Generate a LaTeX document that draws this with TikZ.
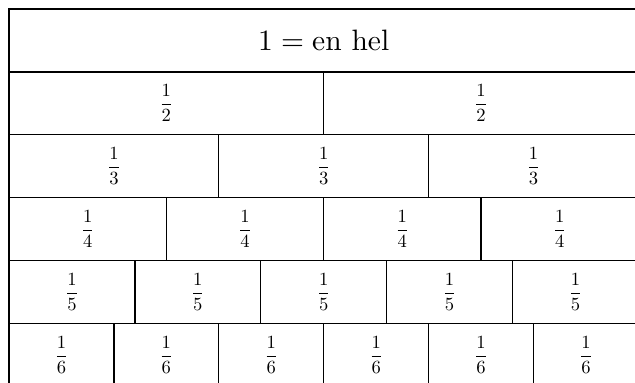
\documentclass[tikz,border=0pt]{standalone}
\usepackage{amsmath}
\usepackage{graphicx}
\newcommand{\fracbig}[1]{\scalebox{1.86}{$\dfrac{1}{#1}$}}
\begin{document}
\begin{tikzpicture}[x=1pt,y=1pt,
  cell/.style={draw=black, line width=1.3pt, inner sep=0pt, outer sep=0pt,
    minimum height=62.85pt}]
\useasboundingbox (0,0) rectangle (635,-383);
\clip (0,0) rectangle (635,-383);
\node[cell, minimum width=629.4pt] (whole) at (323.7,-40.425) {\scalebox{2.95}{$1 = \text{en hel}$}};
\foreach \n in {2,...,6} {
  \foreach \k in {1,...,\n} {
    \pgfmathsetmacro\cx{9+629.4*(\k-0.5)/\n}
    \pgfmathsetmacro\cy{-9-62.85*(\n-1)-31.425}
    \pgfmathsetmacro\w{629.4/\n}
    \node[cell, minimum width=\w pt] (c\n-\k) at (\cx,\cy) {\fracbig{\n}};
  }
}
\end{tikzpicture}
\end{document}
